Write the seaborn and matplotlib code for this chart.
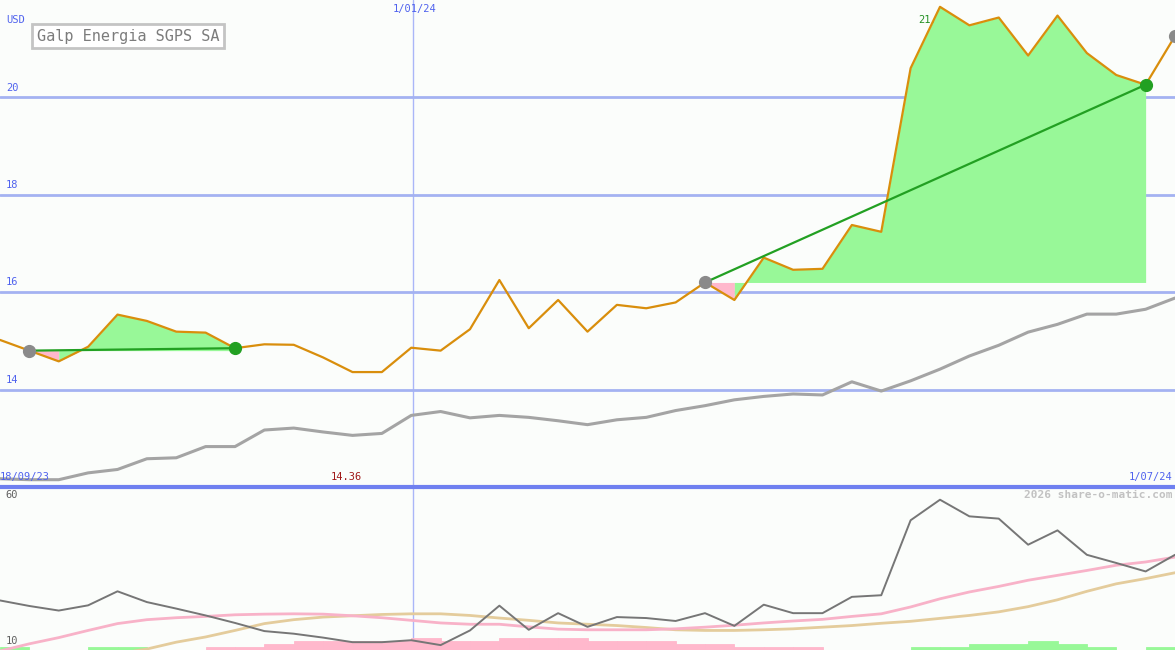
import numpy as np
import matplotlib
matplotlib.use("Agg")
import matplotlib.pyplot as plt
import seaborn as sns

# weekly closes, Galp Energia SGPS SA (USD), 18/09/23 .. 1/07/24
price = [15.02, 14.80, 14.58, 14.88, 15.54, 15.41, 15.19, 15.17, 14.85, 14.93,
         14.92, 14.66, 14.36, 14.36, 14.86, 14.80, 15.24, 16.25, 15.26, 15.84,
         15.19, 15.74, 15.67, 15.79, 16.20, 15.84, 16.71, 16.46, 16.48, 17.38,
         17.24, 20.60, 21.86, 21.48, 21.64, 20.86, 21.68, 20.91, 20.46, 20.26, 21.26]
# long moving average (grey)
avg = [12.17, 12.15, 12.15, 12.29, 12.36, 12.58, 12.60, 12.83, 12.83, 13.17,
       13.21, 13.13, 13.06, 13.10, 13.47, 13.55, 13.42, 13.47, 13.43, 13.36,
       13.28, 13.38, 13.43, 13.57, 13.67, 13.79, 13.86, 13.91, 13.89, 14.16,
       13.97, 14.18, 14.42, 14.69, 14.91, 15.18, 15.34, 15.55, 15.55, 15.65, 15.88]

# lower panel oscillator + signals
osc = [25.2, 23.5, 22.1, 23.7, 28.0, 24.7, 22.7, 20.6, 18.3, 15.8,
       15.0, 13.8, 12.4, 12.4, 13.0, 11.5, 16.0, 23.6, 16.2, 21.3,
       17.1, 20.1, 19.8, 18.9, 21.3, 17.4, 23.9, 21.3, 21.3, 26.3,
       26.8, 49.8, 56.1, 51.0, 50.3, 42.3, 46.7, 39.2, 36.7, 34.1, 39.2]
sig_pink = [9.7, 11.9, 13.8, 16.0, 18.1, 19.3, 19.9, 20.3, 20.8, 21.0,
            21.1, 21.0, 20.5, 19.9, 19.1, 18.3, 17.9, 17.9, 17.1, 16.4,
            16.2, 16.2, 16.2, 16.5, 17.0, 17.6, 18.3, 18.9, 19.4, 20.3,
            21.1, 23.2, 25.7, 27.8, 29.5, 31.4, 32.9, 34.4, 36.0, 37.0, 38.5]
sig_tan_start = 4
sig_tan = [8.9, 10.3, 12.4, 14.0, 16.0, 18.1, 19.3, 20.1, 20.5, 20.9,
           21.1, 21.1, 20.6, 19.8, 19.1, 18.3, 17.9, 17.5, 16.9, 16.2,
           16.0, 16.0, 16.2, 16.5, 17.0, 17.5, 18.2, 18.8, 19.7, 20.6,
           21.7, 23.3, 25.4, 28.0, 30.3, 31.9, 33.7]
hist = [0.9, 0, 0, 0.9, 0.9, 0, 0, -0.9, -0.9, -1.8,
        -2.8, -2.8, -2.8, -2.8, -3.7, -2.8, -2.8, -3.7, -3.7, -3.7,
        -2.8, -2.8, -2.8, -1.8, -1.8, -0.9, -0.9, -0.9, 0, 0,
        0, 0.9, 0.9, 1.8, 1.8, 2.8, 1.8, 0.9, 0, 0.9]

# trades (week index)
entries = [1, 24, 40]
exits = [8, 39]
newyear_pos = 14.05

BG = "#fbfdfb"
GRID = "#a4b2f2"
BLUE = "#4f62ee"
ORANGE = "#d98e0c"
GREENF = "#98f898"
PINKF = "#ffb8cc"
GREENL = "#22a022"

sns.set_style("white")
plt.rcParams["font.family"] = ["DejaVu Sans Mono", "DejaVu Sans"]

fig = plt.figure(figsize=(11.75, 6.5), dpi=100, facecolor=BG)
ax2 = fig.add_axes([0, 0, 1, 163 / 650])
ax1 = fig.add_axes([0, 163 / 650, 1, 487 / 650])
for ax in (ax1, ax2):
    ax.set_facecolor(BG)
    ax.set_xlim(0, 40)
    for s in ax.spines.values():
        s.set_visible(False)
    ax.axvline(newyear_pos, color="#aab6f8", lw=1, zorder=1)
ax1.set_ylim(12, 22)
ax2.set_ylim(10, 60)

idx = np.arange(len(price))

# ---- top panel
for v in [14, 16, 18, 20]:
    ax1.axhline(v, color=GRID, lw=2, zorder=1)
    ax1.text(0.2, v + 0.1, str(v), color=BLUE, fontsize=7.5, va="bottom")
ax1.axhline(12, color="#6f80f0", lw=3, zorder=8, clip_on=False)

sns.lineplot(x=idx, y=avg, ax=ax1, color="#a4a4a4", lw=2.2, zorder=2)

# trade fills: group consecutive weeks with the same colour into one polygon
for e, x in zip(entries, exits):
    base = price[e]
    start = e
    for i in range(e, x):
        up = price[i + 1] >= base
        last = (i + 1 == x) or ((price[i + 2] >= base) != up)
        if last:
            xs = np.arange(start, i + 2)
            ax1.fill_between(xs, [price[k] for k in xs], base,
                             color=GREENF if up else PINKF, lw=0, zorder=3)
            start = i + 1

ax1.text(31.25, 21.59, "21.8", color="#229022", fontsize=7.5, va="center", zorder=2)
ax1.text(11.8, 12.1, "14.36", color="#a01818", fontsize=7.5, ha="center", va="bottom")

sns.lineplot(x=idx, y=price, ax=ax1, color=ORANGE, lw=1.6, zorder=4)

for e, x in zip(entries, exits):
    sns.lineplot(x=[e, x], y=[price[e], price[x]], ax=ax1, color=GREENL, lw=1.6, zorder=5)
ax1.plot(entries, [price[i] for i in entries], "o", color="#8a8a8a", ms=8.5, zorder=6, clip_on=False)
ax1.plot(exits, [price[i] for i in exits], "o", color=GREENL, ms=8.5, zorder=6)

ax1.text(0.2, 21.59, "USD", color=BLUE, fontsize=7.5, va="center")
ax1.text(newyear_pos + 0.05, 21.82, "1/01/24", color=BLUE, fontsize=7.5, ha="center", va="center")
ax1.text(0.0, 12.1, "18/09/23", color=BLUE, fontsize=7.5, va="bottom")
ax1.text(39.9, 12.1, "1/07/24", color=BLUE, fontsize=7.5, ha="right", va="bottom")
ax1.text(0.0315, 0.926, "Galp Energia SGPS SA", transform=ax1.transAxes,
         color="#7c7c7c", fontsize=11, va="center", zorder=7,
         bbox=dict(boxstyle="square,pad=0.3", fc="white", ec="#c4c4c4", lw=2))

# ---- lower panel
colors = [GREENF if h > 0 else PINKF for h in hist]
ax2.bar(np.arange(len(hist)), np.abs(hist), bottom=10, width=1, align="edge",
        color=colors, edgecolor=colors, lw=0.6, zorder=2)
sns.lineplot(x=np.arange(sig_tan_start, sig_tan_start + len(sig_tan)), y=sig_tan,
             ax=ax2, color="#e4cc9c", lw=2, zorder=3)
sns.lineplot(x=idx, y=sig_pink, ax=ax2, color="#f8b2c8", lw=2, zorder=3)
sns.lineplot(x=idx, y=osc, ax=ax2, color="#767676", lw=1.4, zorder=4)

ax2.text(0.2, 57.6, "60", color="#606060", fontsize=7.5, va="center")
ax2.text(0.2, 12.9, "10", color="#606060", fontsize=7.5, va="center")
ax2.text(39.9, 57.6, "2026 share-o-matic.com", color="#c2c2c2", fontsize=8,
         fontweight="bold", ha="right", va="center")

for ax in (ax1, ax2):
    ax.set_xticks([])
    ax.set_yticks([])
    ax.set(xlabel="", ylabel="")

fig.savefig("out.png", dpi=100, facecolor=BG)
